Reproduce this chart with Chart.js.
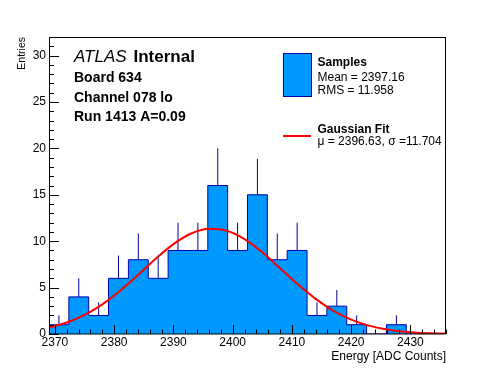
<!DOCTYPE html>
<html>
<head>
<meta charset="utf-8">
<script src="https://cdn.jsdelivr.net/npm/chart.js@4"></script>
<style>
html,body{margin:0;padding:0;background:#ffffff;}
#c{display:block;}
</style>
</head>
<body>
<canvas id="c" width="496" height="372"></canvas>
<script>
// ---- data ----
const binEdges = [2369.00, 2372.35, 2375.70, 2379.05, 2382.40, 2385.75, 2389.10, 2392.45, 2395.80, 2399.15,
                  2402.50, 2405.85, 2409.20, 2412.55, 2415.90, 2419.25, 2422.60, 2425.95, 2429.30, 2432.65, 2436.00];
const binCounts = [1, 4, 2, 6, 8, 6, 9, 9, 16, 9, 15, 8, 9, 2, 3, 1, 0, 1, 0, 0];
const binErrors = [1, 2, 1.41, 2.45, 2.83, 2.45, 3, 3, 4, 3, 3.87, 2.83, 3, 1.41, 1.73, 1, 0, 1, 0, 0];
const fitX = [2369, 2372, 2375, 2378, 2381, 2384, 2387, 2390, 2393, 2396, 2399, 2402,
              2405, 2408, 2411, 2414, 2417, 2420, 2423, 2426, 2429, 2432, 2435, 2436];
const fitY = [0.70, 1.24, 2.06, 3.20, 4.66, 6.35, 8.10, 9.68, 10.83, 11.34, 11.13, 10.23,
              8.80, 7.09, 5.35, 3.78, 2.50, 1.55, 0.90, 0.49, 0.25, 0.12, 0.05, 0.04];
const xTickLabels = [2370, 2380, 2390, 2400, 2410, 2420, 2430];
const yTickLabels = [0, 5, 10, 15, 20, 25, 30];
const xRange = [2369, 2436];
const yRange = [0, 32];

const FONT = "'Liberation Sans', Arial, Helvetica, sans-serif";
const FILL = '#0099ff';
const EDGE = '#0000a8';

// histogram as stepped line: each bin's count held from its low edge to its high edge
const histData = binEdges.map((e, i) => ({x: e, y: i < binCounts.length ? binCounts[i] : 0}));
// error bars: segment from count to count+error at bin centre
const errData = [];
binCounts.forEach((n, i) => {
  if (n <= 0) return;
  const c = (binEdges[i] + binEdges[i + 1]) / 2;
  errData.push({x: c, y: n}, {x: c, y: n + binErrors[i]}, {x: c, y: null});
});
const fitData = fitX.map((x, i) => ({x: x, y: fitY[i]}));

const framePlugin = {
  id: 'frame',
  afterDatasetsDraw(chart) {
    const {ctx, chartArea: a, scales: {x, y}} = chart;
    ctx.save();
    ctx.strokeStyle = '#000';
    ctx.lineWidth = 1;
    ctx.beginPath();
    for (let v = 2370; v <= xRange[1]; v += 2) {
      const px = Math.round(x.getPixelForValue(v)) + 0.5;
      const len = (v % 10 === 0) ? 9 : 4.5;
      ctx.moveTo(px, a.bottom);
      ctx.lineTo(px, a.bottom - len);
    }
    for (let v = 0; v <= yRange[1]; v += 1) {
      const py = Math.round(y.getPixelForValue(v)) + 0.5;
      const len = (v % 5 === 0) ? 10 : 5;
      ctx.moveTo(a.left, py);
      ctx.lineTo(a.left + len, py);
    }
    ctx.stroke();
    ctx.strokeRect(Math.round(a.left) + 0.5, Math.round(a.top) + 0.5,
                   Math.round(a.right - a.left) - 1, Math.round(a.bottom - a.top) - 0.5);
    ctx.restore();
  }
};

const textPlugin = {
  id: 'texts',
  afterDraw(chart) {
    const ctx = chart.ctx;
    ctx.save();
    ctx.fillStyle = '#000';
    ctx.textAlign = 'left';
    ctx.textBaseline = 'alphabetic';
    ctx.font = 'italic 17px ' + FONT;
    ctx.fillText('ATLAS', 74, 62);
    ctx.font = 'bold 17px ' + FONT;
    ctx.fillText('Internal', 133.5, 62);
    ctx.font = 'bold 14px ' + FONT;
    ctx.fillText('Board 634', 74, 81.7);
    ctx.fillText('Channel 078 lo', 74, 101.7);
    ctx.fillText('Run 1413 A=0.09', 74, 120.5);

    // legend
    ctx.fillStyle = FILL;
    ctx.fillRect(283, 53, 29, 44);
    ctx.strokeStyle = EDGE;
    ctx.lineWidth = 1;
    ctx.strokeRect(283.5, 53.5, 28, 43);
    ctx.fillStyle = '#000';
    ctx.font = 'bold 12px ' + FONT;
    ctx.fillText('Samples', 317.5, 65.7);
    ctx.font = '12px ' + FONT;
    ctx.fillText('Mean = 2397.16', 317.5, 81);
    ctx.fillText('RMS = 11.958', 317.5, 94);

    ctx.strokeStyle = '#ff0000';
    ctx.lineWidth = 2;
    ctx.beginPath();
    ctx.moveTo(283, 136);
    ctx.lineTo(311, 136);
    ctx.stroke();
    ctx.font = 'bold 12px ' + FONT;
    ctx.fillText('Gaussian Fit', 317.5, 133.3);
    ctx.font = '12px ' + FONT;
    ctx.fillText('\u03bc = 2396.63, \u03c3 =11.704', 317.5, 144.5);
    ctx.restore();
  }
};

new Chart(document.getElementById('c'), {
  type: 'line',
  data: {
    datasets: [
      {label: 'Gaussian Fit', data: fitData, borderColor: '#ff0000', borderWidth: 2, pointRadius: 0,
       cubicInterpolationMode: 'monotone', fill: false, order: 0},
      {label: 'errors', data: errData, borderColor: EDGE, borderWidth: 1, pointRadius: 0,
       spanGaps: false, fill: false, order: 1},
      {label: 'Samples', data: histData, stepped: 'before', fill: 'origin', backgroundColor: FILL,
       borderColor: EDGE, borderWidth: 1, pointRadius: 0, order: 2}
    ]
  },
  options: {
    responsive: false,
    animation: false,
    devicePixelRatio: 1,
    layout: {padding: {left: 0, top: 37, right: 50, bottom: 0}},
    plugins: {legend: {display: false}, tooltip: {enabled: false}},
    scales: {
      x: {
        type: 'linear', min: xRange[0], max: xRange[1],
        afterBuildTicks: s => { s.ticks = xTickLabels.map(v => ({value: v})); },
        afterFit: s => { s.height = 38; },
        grid: {display: false, drawTicks: false, tickLength: 0}, border: {display: false},
        ticks: {padding: 1, color: '#000', font: {family: FONT, size: 12}, maxRotation: 0, autoSkip: false,
                callback: v => String(v)},
        title: {display: true, text: 'Energy [ADC Counts]', align: 'end', color: '#000',
                font: {family: FONT, size: 12}, padding: {top: 0, bottom: 8}}
      },
      y: {
        type: 'linear', min: yRange[0], max: yRange[1],
        afterBuildTicks: s => { s.ticks = yTickLabels.map(v => ({value: v})); },
        afterFit: s => { s.width = 49; },
        grid: {display: false, drawTicks: false, tickLength: 0}, border: {display: false},
        ticks: {padding: 3, color: '#000', font: {family: FONT, size: 12}, autoSkip: false,
                callback: v => String(v)},
        title: {display: true, text: 'Entries', align: 'end', color: '#000',
                font: {family: FONT, size: 10.5}, padding: {top: 16, bottom: 0}}
      }
    }
  },
  plugins: [framePlugin, textPlugin]
});
</script>
</body>
</html>
